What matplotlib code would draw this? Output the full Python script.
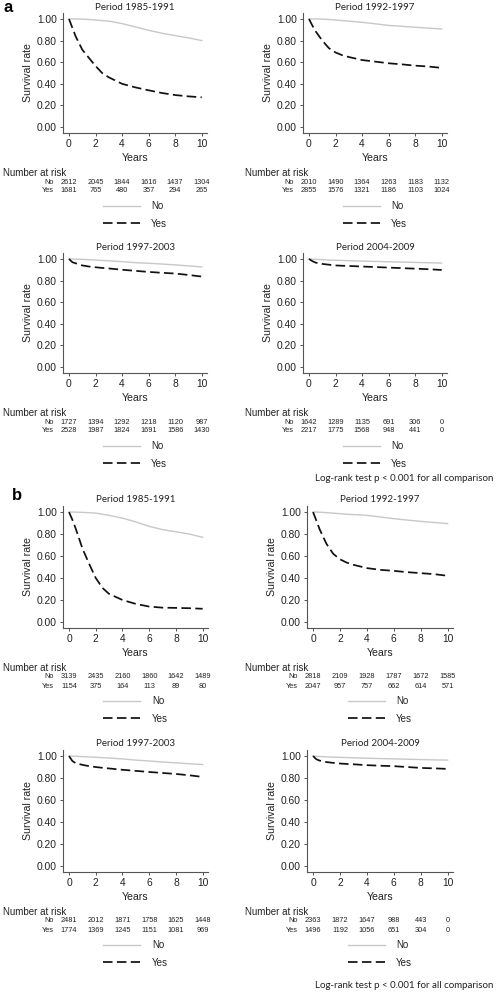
import matplotlib
matplotlib.use("agg")
import matplotlib.pyplot as plt
from matplotlib.transforms import blended_transform_factory

W, H = 496, 992

years = [0, 0.25, 0.5, 1, 1.5, 2, 2.5, 3, 4, 5, 6, 7, 8, 9, 10]
risk_years = [0, 2, 4, 6, 8, 10]
titles = ["Period 1985-1991", "Period 1992-1997", "Period 1997-2003", "Period 2004-2009"]

# panel a: survival curves
a_no = [
    [1.0, 1.0, 1.0, 0.998, 0.995, 0.99, 0.985, 0.98, 0.957, 0.926, 0.895, 0.868, 0.846, 0.825, 0.80],
    [1.0, 1.0, 1.0, 0.998, 0.995, 0.99, 0.985, 0.98, 0.969, 0.955, 0.94, 0.932, 0.923, 0.915, 0.907],
    [1.0, 1.0, 0.998, 0.996, 0.993, 0.99, 0.986, 0.983, 0.975, 0.966, 0.96, 0.953, 0.945, 0.936, 0.926],
    [1.0, 0.998, 0.996, 0.993, 0.99, 0.988, 0.986, 0.984, 0.98, 0.977, 0.974, 0.971, 0.968, 0.965, 0.962],
]
a_yes = [
    [1.0, 0.92, 0.84, 0.716, 0.64, 0.565, 0.50, 0.46, 0.40, 0.367, 0.34, 0.315, 0.296, 0.284, 0.275],
    [1.0, 0.94, 0.886, 0.80, 0.73, 0.69, 0.665, 0.648, 0.62, 0.605, 0.59, 0.58, 0.568, 0.56, 0.547],
    [1.0, 0.97, 0.96, 0.94, 0.93, 0.923, 0.917, 0.912, 0.90, 0.89, 0.88, 0.872, 0.865, 0.852, 0.837],
    [1.0, 0.98, 0.966, 0.954, 0.947, 0.94, 0.937, 0.935, 0.93, 0.925, 0.92, 0.915, 0.91, 0.905, 0.898],
]
a_risk_no = [
    [2612, 2045, 1844, 1616, 1437, 1304],
    [2010, 1490, 1364, 1263, 1183, 1132],
    [1727, 1394, 1292, 1218, 1120, 987],
    [1642, 1289, 1135, 691, 306, 0],
]
a_risk_yes = [
    [1681, 765, 480, 357, 294, 265],
    [2855, 1576, 1321, 1186, 1103, 1024],
    [2528, 1987, 1824, 1691, 1586, 1430],
    [2217, 1775, 1568, 948, 441, 0],
]

# panel b: survival curves
b_no = [
    [1.0, 1.0, 0.999, 0.997, 0.994, 0.99, 0.98, 0.97, 0.945, 0.91, 0.87, 0.84, 0.82, 0.80, 0.77],
    [1.0, 1.0, 0.998, 0.995, 0.99, 0.985, 0.98, 0.977, 0.97, 0.955, 0.94, 0.927, 0.915, 0.905, 0.895],
    [1.0, 0.999, 0.998, 0.995, 0.992, 0.989, 0.985, 0.982, 0.974, 0.963, 0.955, 0.946, 0.938, 0.93, 0.923],
    [1.0, 0.998, 0.996, 0.993, 0.99, 0.988, 0.986, 0.984, 0.98, 0.977, 0.974, 0.971, 0.968, 0.965, 0.963],
]
b_yes = [
    [1.0, 0.93, 0.85, 0.67, 0.53, 0.40, 0.31, 0.255, 0.20, 0.164, 0.14, 0.13, 0.128, 0.125, 0.12],
    [1.0, 0.92, 0.84, 0.71, 0.62, 0.57, 0.54, 0.52, 0.49, 0.474, 0.465, 0.453, 0.444, 0.435, 0.42],
    [1.0, 0.955, 0.935, 0.92, 0.908, 0.90, 0.893, 0.887, 0.875, 0.865, 0.855, 0.846, 0.837, 0.825, 0.81],
    [1.0, 0.97, 0.958, 0.945, 0.938, 0.932, 0.928, 0.925, 0.917, 0.912, 0.908, 0.90, 0.892, 0.888, 0.883],
]
b_risk_no = [
    [3139, 2435, 2160, 1860, 1642, 1489],
    [2818, 2109, 1928, 1787, 1672, 1585],
    [2481, 2012, 1871, 1758, 1625, 1448],
    [2363, 1872, 1647, 988, 443, 0],
]
b_risk_yes = [
    [1154, 375, 164, 113, 89, 80],
    [2047, 957, 757, 662, 614, 571],
    [1774, 1369, 1245, 1151, 1081, 969],
    [1496, 1192, 1056, 651, 304, 0],
]

# axes boxes in pixels: left, top, right, bottom
a_boxes = [(63, 13, 207, 133), (303, 13, 447, 133), (63, 253, 207, 373), (303, 253, 447, 373)]
b_boxes = [(63, 506, 208, 628), (307, 506, 453, 628), (63, 750, 208, 872), (307, 750, 453, 872)]

SANS = ["Liberation Sans", "DejaVu Sans"]
TITLE_FONT = ["Lato", "DejaVu Sans"]
plt.rcParams["font.family"] = SANS


def fx(x):
    return x / W


def fy(y):
    return 1 - y / H


def draw_panel(fig, box, title, no, yes, risk_no, risk_yes, rl_left):
    left, top, right, bottom = box
    ax = fig.add_axes([fx(left), fy(bottom), (right - left) / W, (bottom - top) / H])
    ax.plot(years, no, color="#c8c8c8", lw=1.0, label="No")
    ax.plot(years, yes, color="#111111", lw=1.25, dashes=(5.5, 2.5), label="Yes")
    ax.set_xlim(-0.45, 10.4)
    ax.set_ylim(-0.055, 1.055)
    ax.set_xticks(risk_years)
    ax.set_yticks([0, 0.2, 0.4, 0.6, 0.8, 1.0])
    ax.set_yticklabels(["%.2f" % v for v in [0, 0.2, 0.4, 0.6, 0.8, 1.0]])
    for s in ["top", "right"]:
        ax.spines[s].set_visible(False)
    for s in ["left", "bottom"]:
        ax.spines[s].set_color("#555555")
        ax.spines[s].set_linewidth(0.8)
    ax.tick_params(length=2.5, width=0.7, color="#555555", labelsize=7.4, pad=2, labelcolor="#222222")
    ax.set_xlabel("Years", fontsize=7.6, labelpad=3, color="#222222")
    ax.set_ylabel("Survival rate", fontsize=7.6, labelpad=3, color="#222222")
    cx = (left + right) / 2
    fig.text(fx(cx), fy(top - 6), title, ha="center", va="center", fontsize=7,
             family=TITLE_FONT, color="#222222")

    # number at risk table
    fig.text(fx(rl_left), fy(bottom + 40), "Number at risk", ha="left", va="center",
             fontsize=7, color="#222222")
    tr = blended_transform_factory(ax.transData, fig.transFigure)
    for row, vals, dy in [("No", risk_no, 49), ("Yes", risk_yes, 58)]:
        fig.text(fx(left - 9), fy(bottom + dy), row, ha="right", va="center", fontsize=5.3,
                 color="#222222")
        for t, v in zip(risk_years, vals):
            ax.text(t, fy(bottom + dy), str(v), transform=tr, ha="center", va="center",
                    fontsize=5.3, color="#222222")

    ax.legend(loc="center", bbox_to_anchor=(fx(cx), fy(bottom + 82)),
              bbox_transform=fig.transFigure, frameon=False, fontsize=7,
              handlelength=3.8, handletextpad=1.2, labelspacing=0.75,
              labelcolor="#222222")
    return ax


fig = plt.figure(figsize=(W / 100, H / 100), dpi=100)

rl = [3, 245, 3, 245]
for i in range(4):
    draw_panel(fig, a_boxes[i], titles[i], a_no[i], a_yes[i], a_risk_no[i], a_risk_yes[i], rl[i])
    draw_panel(fig, b_boxes[i], titles[i], b_no[i], b_yes[i], b_risk_no[i], b_risk_yes[i], rl[i])

fig.text(fx(3), fy(8), "a", fontsize=12, fontweight="bold", va="center", ha="left")
fig.text(fx(12), fy(496), "b", fontsize=12, fontweight="bold", va="center", ha="left")

note = "Log-rank test p < 0.001 for all comparison"
fig.text(fx(493), fy(478), note, ha="right", va="center", fontsize=7, family=TITLE_FONT,
         color="#222222")
fig.text(fx(493), fy(985), note, ha="right", va="center", fontsize=7, family=TITLE_FONT,
         color="#222222")

fig.savefig("out.png", dpi=100, facecolor="white")
